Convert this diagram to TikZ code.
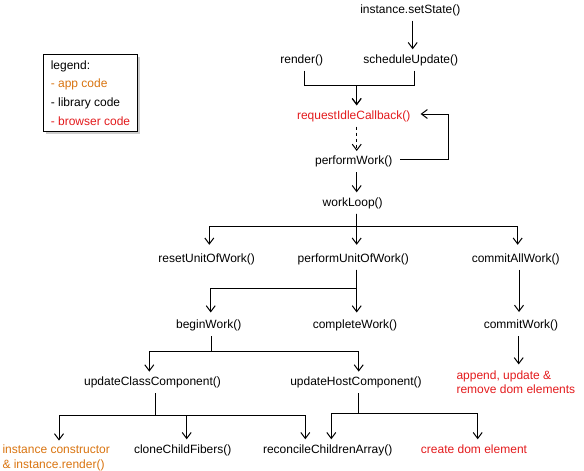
\documentclass[tikz,border=0pt]{standalone}
\usepackage{fontspec}
\setmainfont{Liberation Sans}
\usetikzlibrary{arrows.meta,shadows}
\definecolor{apporange}{RGB}{217,116,16}
\definecolor{browserred}{RGB}{227,26,28}
\tikzset{
  fn/.style={font=\fontsize{12}{14.5}\selectfont, text height=9pt, text depth=3pt, inner xsep=4pt, inner ysep=4.5pt},
  arr/.style={draw=black, line width=1pt, -{Straight Barb[length=6pt,width=9pt,line width=1pt]}},
  dasharr/.style={arr, dash pattern=on 3pt off 3pt},
  multi/.style={font=\fontsize{12}{#1}\selectfont, align=left, anchor=north west},
  legendbox/.style={draw=black, line width=1pt, fill=white, align=left, anchor=north west,
    font=\fontsize{12}{18.7}\selectfont, inner xsep=7pt, inner ysep=5.8pt,
    general shadow={fill=gray!40, shadow xshift=2.5pt, shadow yshift=-2.5pt}}
}
\begin{document}
\begin{tikzpicture}[x=1pt,y=-1pt]
\useasboundingbox (0,0) rectangle (584,471);
% legend
\node[legendbox] (legend) at (43.3,54.3) {legend:\\\textcolor{apporange}{- app code}\\- library code\\\textcolor{browserred}{- browser code}};
% nodes
\node[fn] (setstate) at (410.3,10) {instance.setState()};
\node[fn] (render) at (301.7,60) {render()};
\node[fn] (schedule) at (410.8,60) {scheduleUpdate()};
\node[fn, text=browserred] (ric) at (353.7,116) {requestIdleCallback()};
\node[fn] (pwork) at (353.7,161.7) {performWork()};
\node[fn] (wloop) at (352.7,203) {workLoop()};
\node[fn] (reset) at (206.7,259) {resetUnitOfWork()};
\node[fn] (puow) at (353.3,259) {performUnitOfWork()};
\node[fn] (commitall) at (515.7,259) {commitAllWork()};
\node[fn] (begin) at (208.7,325.7) {beginWork()};
\node[fn] (complete) at (355,325.7) {completeWork()};
\node[fn] (commitw) at (521,325.7) {commitWork()};
\node[multi=14, text=browserred, inner sep=6pt] (append) at (450.3,364.4) {append, update \&\\remove dom elements};
\node[fn] (ucc) at (152.5,382.3) {updateClassComponent()};
\node[fn] (uhc) at (356,382.3) {updateHostComponent()};
\node[multi=15, text=apporange, inner sep=4.4pt] (inst) at (-2.1,440.5) {instance constructor\\\& instance.render()};
\node[fn] (clone) at (182.7,450) {cloneChildFibers()};
\node[fn] (reconcile) at (327.7,450) {reconcileChildrenArray()};
\node[fn, text=browserred] (create) at (474,450) {create dom element};
% connectors
\draw[arr] ([xshift=2.4pt]setstate.south) -- ([xshift=1.9pt]schedule.north);
\draw[arr] ([xshift=2.6pt]render.south) -- ++(0,15) -| ([xshift=3pt]ric.north);
\draw[arr] ([xshift=3.2pt]schedule.south) -- ++(0,15) -| ([xshift=3pt]ric.north);
\draw[dasharr] ([xshift=3pt]ric.south) -- ([xshift=3pt]pwork.north);
\draw[arr] ([shift={(4,-2)}]pwork.east) -- ++(48,0) |- ([shift={(6,-2)}]ric.east);
\draw[arr] ([xshift=3pt]pwork.south) -- ([xshift=4pt]wloop.north);
\draw[arr, shorten >=3.5pt] ([xshift=4pt]wloop.south) -- ++(0,12.5) -| ([xshift=2.6pt]reset.north);
\draw[arr, shorten >=3.5pt] ([xshift=4pt]wloop.south) -- ([xshift=3.4pt]puow.north);
\draw[arr, shorten >=3.5pt] ([xshift=4pt]wloop.south) -- ++(0,12.5) -| ([xshift=2pt]commitall.north);
\draw[arr, shorten >=2.5pt] ([xshift=3.4pt]puow.south) -- ++(0,19) -| ([xshift=2pt]begin.north);
\draw[arr, shorten >=2.5pt] ([xshift=3.4pt]puow.south) -- ([xshift=1.7pt]complete.north);
\draw[arr, shorten >=3pt] ([xshift=3.3pt]commitall.south) -- ([xshift=-2pt]commitw.north);
\draw[arr] ([xshift=-2.3pt]commitw.south) -- ([xshift=-2.3pt]commitw.south |- append.north);
\draw[arr] ([xshift=2.3pt]begin.south) -- ++(0,15.5) -| ([xshift=-3.2pt]ucc.north);
\draw[arr] ([xshift=2.3pt]begin.south) -- ++(0,15.5) -| ([xshift=2.7pt]uhc.north);
\draw[arr] ([xshift=3.2pt]ucc.south) -- ++(0,22.2) -| ([xshift=61.1pt]inst.north west);
\draw[arr] ([xshift=3.2pt]ucc.south) -- ++(0,22.2) -| ([xshift=4pt]clone.north);
\draw[arr] ([xshift=3.2pt]ucc.south) -- ++(0,22.2) -| ([xshift=-22.4pt]reconcile.north);
\draw[arr] ([xshift=2.7pt]uhc.south) -- ++(0,20.5) -| ([xshift=3.6pt]reconcile.north);
\draw[arr] ([xshift=2.7pt]uhc.south) -- ++(0,20.5) -| ([xshift=3.7pt]create.north);
\end{tikzpicture}
\end{document}
